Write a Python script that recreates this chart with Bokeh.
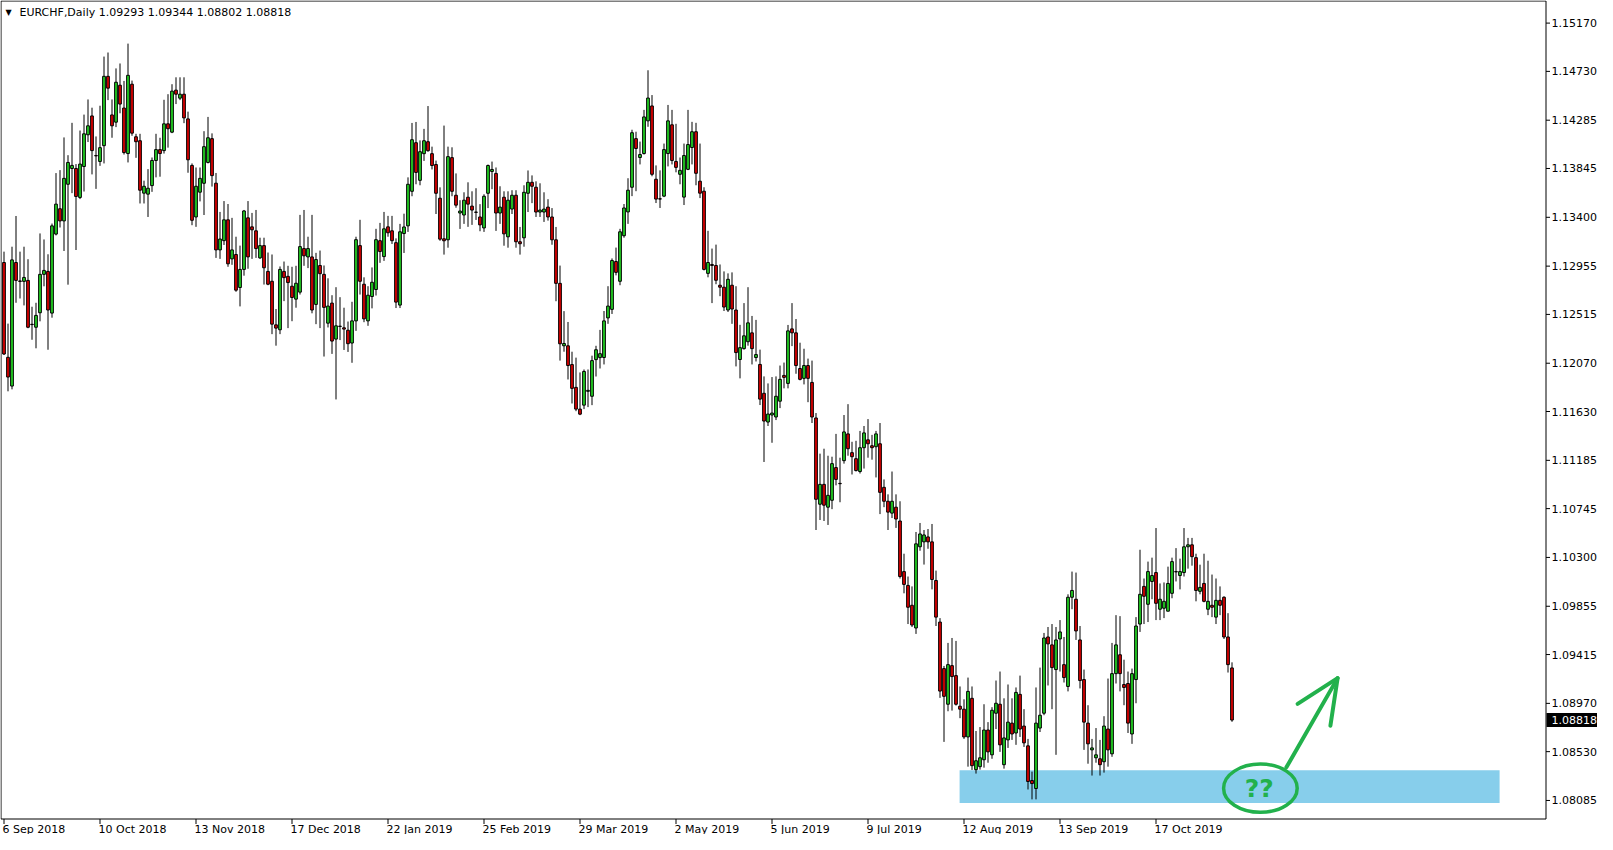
from bokeh.plotting import figure
from bokeh.models import Range1d, ColumnDataSource
from bokeh.embed import file_html
from bokeh.resources import INLINE
from bokeh.core.properties import value

# ---------------- data (EURCHF daily) ----------------
opens = [
 1.12988,1.12124,1.11862,1.12988,1.12820,1.12816,1.12825,1.12425,1.12398,1.12530,
 1.12880,1.12907,1.12527,1.13247,1.13478,1.13367,1.13701,1.13845,1.13845,1.13581,
 1.13863,1.14152,1.14324,1.13963,1.13909,1.14053,1.14685,1.14333,1.14267,1.14604,
 1.14396,1.13981,1.14613,1.14134,1.14098,1.13620,1.13611,1.13689,1.13918,1.14017,
 1.14008,1.14252,1.14176,1.14559,1.14486,1.14522,1.14297,1.13873,1.13403,1.13629,
 1.13710,1.13900,1.14117,1.13711,1.13103,1.13187,1.13377,1.13021,1.13061,1.12760,
 1.12925,1.13395,1.13313,1.13277,1.13030,1.13142,1.12907,1.12817,1.12420,1.12375,
 1.12907,1.12862,1.12772,1.12654,1.12718,1.13115,1.13039,1.13039,1.12606,1.12961,
 1.12880,1.12435,1.12618,1.12290,1.12405,1.12393,1.12371,1.12254,1.12456,1.13142,
 1.12790,1.12456,1.12678,1.12742,1.13187,1.13042,1.13313,1.13277,1.13169,1.12600,
 1.13252,1.13322,1.13637,1.14080,1.13737,1.13980,1.14089,1.13980,1.13881,1.13574,
 1.13204,1.13195,1.13944,1.13601,1.13439,1.13421,1.13583,1.13502,1.13448,1.13403,
 1.13303,1.13619,1.13818,1.13800,1.13439,1.13583,1.13222,1.13475,1.13601,1.13177,
 1.13213,1.13619,1.13719,1.13674,1.13448,1.13448,1.13493,1.13403,1.13195,1.12798,
 1.12229,1.12229,1.12058,1.11850,1.11652,1.11688,1.11814,1.11769,1.12103,1.12121,
 1.12122,1.12483,1.12561,1.12997,1.12817,1.13232,1.13449,1.13674,1.14117,1.13945,
 1.13981,1.14279,1.14415,1.13747,1.13569,1.13593,1.13981,1.14243,1.13909,1.13792,
 1.13584,1.13837,1.14036,1.14180,1.13729,1.13638,1.12889,1.12970,1.12961,1.12781,
 1.12763,1.12555,1.12781,1.12555,1.12104,1.12203,1.12266,1.12347,1.12122,1.12059,
 1.11796,1.11534,1.11598,1.11580,1.11724,1.11959,1.11886,1.12383,1.12347,1.12022,
 1.11932,1.12049,1.11895,1.11571,1.10785,1.10966,1.10758,1.10821,1.11119,1.10975,
 1.11182,1.11426,1.11255,1.11200,1.11083,1.11300,1.11372,1.11318,1.11309,1.11336,
 1.10939,1.10812,1.10704,1.10758,1.10632,1.10171,1.10045,1.09864,1.09657,1.10397,
 1.10442,1.10487,1.10442,1.10090,1.09711,1.09287,1.08962,1.09314,1.09223,1.08944,
 1.08917,1.08664,1.09016,1.08366,1.08393,1.08456,1.08727,1.08501,1.08880,1.08962,
 1.08411,1.08637,1.08790,1.08700,1.09052,1.08763,1.08583,1.08267,1.08194,1.08745,
 1.08880,1.09575,1.09503,1.09278,1.09557,1.09323,1.09124,1.09937,1.09919,1.09548,
 1.09187,1.08790,1.08546,1.08474,1.08465,1.08438,1.08736,1.08510,1.09241,1.09413,
 1.09142,1.09151,1.08691,1.09187,1.09693,1.10036,1.09873,1.10081,1.10162,1.09828,
 1.09837,1.09810,1.09973,1.10168,1.10135,1.10162,1.10397,1.10415,1.10298,1.09991,
 1.10063,1.09828,1.09864,1.09756,1.09909,1.09937,1.09575,1.09293]

highs = [
 1.13087,1.12431,1.13132,1.13412,1.13087,1.13132,1.13018,1.12585,1.12621,1.13253,
 1.13198,1.13063,1.13343,1.13803,1.13830,1.14128,1.13966,1.14261,1.13885,1.14191,
 1.14336,1.14474,1.14399,1.14137,1.14417,1.14865,1.14902,1.14474,1.14757,1.14802,
 1.14643,1.14983,1.14646,1.14161,1.14161,1.13734,1.13839,1.13945,1.14161,1.14125,
 1.14471,1.14522,1.14613,1.14676,1.14676,1.14676,1.14363,1.13891,1.13854,1.13854,
 1.14185,1.14315,1.14165,1.13804,1.13449,1.13548,1.13521,1.13395,1.13223,1.13142,
 1.13467,1.13548,1.13440,1.13467,1.13214,1.13214,1.13079,1.13061,1.12564,1.12952,
 1.12997,1.12958,1.12949,1.12958,1.13422,1.13467,1.13223,1.13422,1.13076,1.13097,
 1.12961,1.12844,1.12690,1.12763,1.12672,1.12576,1.12450,1.12630,1.13223,1.13377,
 1.12853,1.12772,1.12943,1.13295,1.13349,1.13449,1.13413,1.13413,1.13208,1.13340,
 1.13433,1.13764,1.14260,1.14269,1.14101,1.14206,1.14414,1.14044,1.13917,1.13673,
 1.14236,1.14044,1.14038,1.13800,1.13556,1.13628,1.13719,1.13637,1.13665,1.13520,
 1.13610,1.13881,1.13908,1.13854,1.13683,1.13637,1.13637,1.13647,1.13647,1.13312,
 1.13692,1.13827,1.13782,1.13728,1.13710,1.13628,1.13565,1.13484,1.13312,1.12960,
 1.12545,1.12446,1.12175,1.12121,1.11986,1.12013,1.12013,1.12139,1.12229,1.12374,
 1.12546,1.12772,1.13025,1.13124,1.13295,1.13521,1.13756,1.14198,1.14180,1.14090,
 1.14379,1.14740,1.14514,1.13873,1.13828,1.14072,1.14424,1.14379,1.14252,1.13945,
 1.14072,1.14379,1.14270,1.14261,1.14072,1.13674,1.13277,1.13115,1.13151,1.12970,
 1.12907,1.12889,1.12898,1.12772,1.12420,1.12618,1.12763,1.12501,1.12465,1.12194,
 1.11950,1.11886,1.11944,1.11950,1.12049,1.12076,1.12419,1.12618,1.12473,1.12257,
 1.12202,1.12112,1.12094,1.11616,1.11246,1.11291,1.11227,1.11218,1.11426,1.11209,
 1.11598,1.11697,1.11354,1.11363,1.11453,1.11498,1.11561,1.11417,1.11453,1.11525,
 1.11011,1.10875,1.11083,1.10875,1.10812,1.10334,1.10126,1.10036,1.10532,1.10614,
 1.10550,1.10559,1.10605,1.10180,1.09747,1.09311,1.09521,1.09566,1.09539,1.09124,
 1.09007,1.09205,1.09124,1.08718,1.08754,1.08962,1.08799,1.08935,1.09178,1.09260,
 1.09016,1.09142,1.09016,1.09115,1.09223,1.08917,1.08646,1.08348,1.09115,1.09296,
 1.09612,1.09666,1.09693,1.09666,1.09729,1.09575,1.09964,1.10171,1.10162,1.09675,
 1.09278,1.08953,1.08646,1.08745,1.08637,1.08853,1.09196,1.09521,1.09774,1.09765,
 1.09368,1.09260,1.09287,1.09756,1.10370,1.10108,1.10262,1.10298,1.10568,1.10063,
 1.10072,1.10216,1.10298,1.10385,1.10289,1.10568,1.10478,1.10478,1.10334,1.10234,
 1.10334,1.10270,1.10144,1.10108,1.10036,1.09946,1.09792,1.09344]

lows = [
 1.12145,1.11814,1.11832,1.12621,1.12660,1.12597,1.12389,1.12284,1.12206,1.12452,
 1.12771,1.12193,1.12485,1.13235,1.13307,1.13093,1.12786,1.13620,1.13102,1.13566,
 1.13635,1.14086,1.13791,1.13659,1.13869,1.13891,1.14468,1.14125,1.14222,1.14348,
 1.13972,1.13900,1.14143,1.13942,1.13526,1.13526,1.13403,1.13632,1.13764,1.13770,
 1.13981,1.14035,1.14167,1.14432,1.14468,1.14258,1.13806,1.13328,1.13313,1.13545,
 1.13421,1.13891,1.13680,1.13030,1.13021,1.13148,1.12949,1.12967,1.12721,1.12588,
 1.12868,1.12931,1.13021,1.13030,1.13021,1.12787,1.12781,1.12335,1.12230,1.12335,
 1.12636,1.12390,1.12453,1.12576,1.12696,1.12958,1.12937,1.12525,1.12426,1.12390,
 1.12131,1.12396,1.12155,1.11740,1.12281,1.12191,1.12173,1.12074,1.12365,1.12696,
 1.12444,1.12411,1.12570,1.12687,1.12985,1.13003,1.13223,1.13157,1.12573,1.12573,
 1.13075,1.13267,1.13592,1.13701,1.13692,1.13914,1.13998,1.13836,1.13430,1.13186,
 1.13060,1.13123,1.13592,1.13487,1.13294,1.13340,1.13313,1.13331,1.13376,1.13273,
 1.13267,1.13484,1.13656,1.13276,1.13340,1.13141,1.13123,1.13430,1.13123,1.13060,
 1.13132,1.13448,1.13529,1.13403,1.13403,1.13358,1.13370,1.13150,1.12635,1.12094,
 1.12175,1.11922,1.11703,1.11633,1.11597,1.11652,1.11670,1.11688,1.11949,1.12022,
 1.12059,1.12429,1.12519,1.12871,1.12781,1.13214,1.13340,1.13593,1.13638,1.13882,
 1.13972,1.14225,1.13774,1.13530,1.13485,1.13584,1.13864,1.13882,1.13810,1.13701,
 1.13512,1.13830,1.13882,1.13692,1.13575,1.12916,1.12853,1.12618,1.12790,1.12681,
 1.12546,1.12537,1.12429,1.12041,1.11932,1.12194,1.12230,1.12059,1.12086,1.11689,
 1.11170,1.11498,1.11345,1.11552,1.11661,1.11841,1.11841,1.12226,1.11974,1.11914,
 1.11877,1.11715,1.11525,1.10550,1.10641,1.10632,1.10596,1.10740,1.10957,1.10803,
 1.11155,1.11227,1.11056,1.11083,1.11065,1.11110,1.11209,1.11191,1.11029,1.10695,
 1.10758,1.10550,1.10659,1.10569,1.10108,1.09973,1.09693,1.09666,1.09603,1.10361,
 1.10235,1.10379,1.10009,1.09675,1.09020,1.08619,1.08898,1.08904,1.08950,1.08835,
 1.08646,1.08393,1.08363,1.08330,1.08366,1.08384,1.08429,1.08465,1.08736,1.08528,
 1.08375,1.08564,1.08637,1.08592,1.08664,1.08573,1.08185,1.08095,1.08095,1.08709,
 1.08862,1.09133,1.08917,1.08501,1.09260,1.09160,1.09079,1.09828,1.09548,1.09106,
 1.08546,1.08420,1.08312,1.08429,1.08312,1.08339,1.08393,1.08483,1.09151,1.09079,
 1.08953,1.08700,1.08601,1.08971,1.09621,1.09693,1.09711,1.09919,1.09729,1.09729,
 1.09747,1.09810,1.09928,1.10081,1.10009,1.10126,1.10198,1.10225,1.09900,1.09964,
 1.09891,1.09774,1.09756,1.09693,1.09774,1.09557,1.09251,1.08802]

closes = [
 1.12154,1.11944,1.13012,1.12825,1.12816,1.12852,1.12398,1.12422,1.12506,1.12880,
 1.12916,1.12555,1.13322,1.13520,1.13367,1.13755,1.13900,1.13873,1.13590,1.13885,
 1.14161,1.14234,1.14008,1.13960,1.14035,1.14685,1.14577,1.14234,1.14631,1.14432,
 1.13990,1.14694,1.14167,1.14089,1.13647,1.13683,1.13665,1.13918,1.14017,1.13981,
 1.14252,1.14207,1.14550,1.14522,1.14522,1.14306,1.13924,1.13373,1.13683,1.13755,
 1.14044,1.14125,1.13780,1.13103,1.13202,1.13377,1.12976,1.13103,1.12736,1.12925,
 1.13458,1.13039,1.13286,1.13115,1.13142,1.12940,1.12790,1.12426,1.12390,1.12925,
 1.12850,1.12805,1.12669,1.12799,1.13133,1.13049,1.13115,1.12555,1.13015,1.12886,
 1.12579,1.12591,1.12272,1.12411,1.12408,1.12381,1.12248,1.12456,1.13196,1.12817,
 1.12474,1.12690,1.12808,1.13196,1.13088,1.13295,1.13259,1.13187,1.12627,1.13268,
 1.13312,1.13701,1.14107,1.13809,1.13998,1.14098,1.14007,1.13872,1.13619,1.13201,
 1.13186,1.13953,1.13637,1.13511,1.13457,1.13556,1.13520,1.13466,1.13445,1.13331,
 1.13592,1.13872,1.13836,1.13439,1.13493,1.13249,1.13556,1.13601,1.13177,1.13159,
 1.13628,1.13719,1.13683,1.13448,1.13466,1.13475,1.13403,1.13195,1.12798,1.12247,
 1.12250,1.12049,1.11841,1.11652,1.11606,1.11995,1.11823,1.12094,1.12193,1.12157,
 1.12456,1.12591,1.13006,1.12898,1.13268,1.13485,1.13647,1.14171,1.14027,1.13972,
 1.14315,1.14487,1.13792,1.13566,1.13566,1.14017,1.14279,1.13918,1.13855,1.13828,
 1.13963,1.14063,1.14180,1.13801,1.13620,1.12925,1.12988,1.12961,1.12826,1.12763,
 1.12582,1.12835,1.12564,1.12167,1.12212,1.12320,1.12438,1.12203,1.12149,1.11743,
 1.11543,1.11607,1.11616,1.11769,1.11923,1.11941,1.12365,1.12347,1.12049,1.11923,
 1.12049,1.11932,1.11580,1.10830,1.10966,1.10776,1.10866,1.11155,1.11011,1.10972,
 1.11444,1.11291,1.11218,1.11092,1.11300,1.11435,1.11336,1.11300,1.11426,1.10893,
 1.10812,1.10713,1.10812,1.10650,1.10126,1.10054,1.09846,1.09684,1.10424,1.10514,
 1.10505,1.10442,1.10099,1.09756,1.09082,1.09034,1.09323,1.09214,1.08962,1.08917,
 1.08664,1.09079,1.08402,1.08447,1.08474,1.08727,1.08528,1.08907,1.08971,1.08592,
 1.08655,1.08799,1.08691,1.09070,1.08736,1.08610,1.08258,1.08239,1.08790,1.08862,
 1.09566,1.09512,1.09296,1.09548,1.09621,1.09205,1.09937,1.09999,1.09630,1.09178,
 1.08799,1.08601,1.08564,1.08501,1.08411,1.08763,1.08546,1.09241,1.09503,1.09241,
 1.09115,1.08790,1.09241,1.09675,1.09964,1.09946,1.10171,1.10135,1.09882,1.09919,
 1.09900,1.10063,1.10262,1.10171,1.10171,1.10397,1.10415,1.10307,1.09999,1.10027,
 1.09900,1.09900,1.09846,1.09909,1.09864,1.09575,1.09323,1.08818]

date_labels = ["6 Sep 2018", "10 Oct 2018", "13 Nov 2018", "17 Dec 2018",
               "22 Jan 2019", "25 Feb 2019", "29 Mar 2019", "2 May 2019",
               "5 Jun 2019", "9 Jul 2019", "12 Aug 2019", "13 Sep 2019",
               "17 Oct 2019"]
bars_per_label = 24
price_ticks = [1.15170, 1.14730, 1.14285, 1.13845, 1.13400, 1.12955, 1.12515,
               1.12070, 1.11630, 1.11185, 1.10745, 1.10300, 1.09855, 1.09415,
               1.08970, 1.08530, 1.08085]
symbol = "EURCHF,Daily"
last_price = closes[-1]

# support zone (price band, bar span)
zone_bottom, zone_top = 1.08062, 1.08360
zone_left, zone_right = 238.9, 373.9

# ---------------- geometry / styling ----------------
BULL = "#24d424"
BEAR = "#dd0000"
MARK = "#22b14c"
FONT = "DejaVu Sans"

W, H = 1597, 834                    # canvas = plotting frame
BAR_PX, BAR0 = 4.0, 3.5             # px per bar, px of bar 0
CH_RIGHT, CH_TOP, CH_BOT = 1545.5, 0.5, 818.5   # chart box lines (px)
REF_PRICE, REF_PX, PPP = 1.15170, 22.6, 10972.0 # price scale anchor

def bx(px):   # canvas px -> bar coordinate
    return (px - BAR0) / BAR_PX

Y_END = REF_PRICE + REF_PX / PPP
def py(px):   # canvas px (from top) -> price coordinate
    return Y_END - px / PPP

p = figure(width=W, height=H, x_range=Range1d(bx(0), bx(W)),
           y_range=Range1d(py(H), py(0)), x_axis_location=None, y_axis_location=None,
           output_backend="svg", toolbar_location=None, min_border=0)
p.background_fill_color = "white"
p.border_fill_color = "white"
p.outline_line_color = None
p.grid.visible = False

# support zone behind the candles
p.quad(left=[zone_left], right=[zone_right], bottom=[zone_bottom], top=[zone_top],
       fill_color="#87ceeb", line_color=None)

# candles
idx = list(range(len(opens)))
src = ColumnDataSource(dict(
    x=idx, h=highs, l=lows,
    top=[max(o, c) for o, c in zip(opens, closes)],
    bot=[min(o, c) for o, c in zip(opens, closes)],
    col=[BULL if c >= o else BEAR for o, c in zip(opens, closes)]))
p.segment(x0="x", y0="h", x1="x", y1="l", source=src, line_color="black", line_width=1)
p.vbar(x="x", width=0.68, top="top", bottom="bot", source=src,
       fill_color="col", line_color="black", line_width=1)

# chart box
p.line(x=[bx(0.5), bx(CH_RIGHT), bx(CH_RIGHT), bx(0.5), bx(0.5)],
       y=[py(CH_TOP), py(CH_TOP), py(CH_BOT), py(CH_BOT), py(CH_TOP)],
       line_color="black", line_width=1)

# price scale (right)
n = len(price_ticks)
p.segment(x0=[bx(CH_RIGHT)] * n, x1=[bx(CH_RIGHT + 4)] * n,
          y0=price_ticks, y1=price_ticks, line_color="black", line_width=1)
p.text(x=[bx(CH_RIGHT + 5.5)] * n, y=price_ticks,
       text=[f"{v:.5f}" for v in price_ticks], text_align="left", text_baseline="middle",
       text_font=value(FONT), text_font_size="11px", text_color="black")

# current price box
p.quad(left=[bx(CH_RIGHT + 0.5)], right=[bx(W)], top=[last_price + 7 / PPP],
       bottom=[last_price - 7 / PPP], fill_color="black", line_color=None)
p.text(x=[bx(CH_RIGHT + 5.5)], y=[last_price], text=[f"{last_price:.5f}"],
       text_align="left", text_baseline="middle", text_font=value(FONT),
       text_font_size="11px", text_color="white")

# time scale (bottom)
xt = [bars_per_label * k for k in range(len(date_labels))]
p.segment(x0=xt, x1=xt, y0=[py(CH_BOT)] * len(xt), y1=[py(CH_BOT + 5)] * len(xt),
          line_color="black", line_width=1)
p.text(x=[t - 0.35 for t in xt], y=[py(CH_BOT + 10)] * len(xt), text=date_labels,
       text_align="left", text_baseline="middle", text_font=value(FONT),
       text_font_size="11px", text_color="black")

# header
p.text(x=[bx(5)], y=[py(11.5)], text=["\u25BC"], text_align="left", text_baseline="middle",
       text_font=value(FONT), text_font_size="8px", text_color="black")
hdr = f"{symbol}  {opens[-1]:.5f} {highs[-1]:.5f} {lows[-1]:.5f} {closes[-1]:.5f}"
p.text(x=[bx(19)], y=[py(11.5)], text=[hdr], text_align="left", text_baseline="middle",
       text_font=value(FONT), text_font_size="11px", text_color="black")

# hand-drawn annotation: ellipse, "??", arrow
ex, ey = 314.1, 1.08197
p.ellipse(x=[ex], y=[ey], width=18.4, height=0.0044, fill_color=None,
          line_color=MARK, line_width=3.5)
p.text(x=[ex - 0.3], y=[ey], text=["??"], text_align="center", text_baseline="middle",
       text_font=value(FONT), text_font_style="bold", text_font_size="25px",
       text_color=MARK)
p.line(x=[320.6, 333.4], y=[1.08387, 1.09200], line_color=MARK, line_width=4,
       line_cap="round")
p.line(x=[323.4, 333.4, 331.6], y=[1.08965, 1.09200, 1.08766], line_color=MARK,
       line_width=4, line_cap="round", line_join="round")

open("out.html", "w").write(file_html(p, INLINE))
